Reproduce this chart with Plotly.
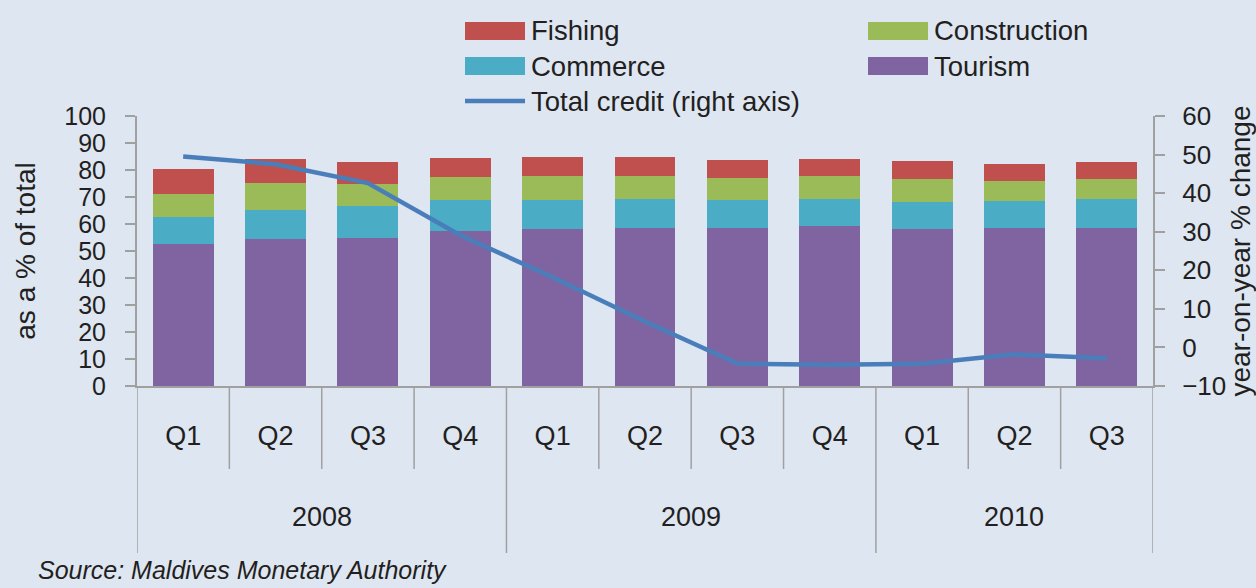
import plotly.graph_objects as go

# ---- data ----
years = ["2008", "2008", "2008", "2008", "2009", "2009", "2009", "2009", "2010", "2010", "2010"]
quarters = ["Q1", "Q2", "Q3", "Q4", "Q1", "Q2", "Q3", "Q4", "Q1", "Q2", "Q3"]
tourism = [52.6, 54.5, 54.9, 57.4, 58.2, 58.5, 58.5, 59.3, 58.2, 58.5, 58.5]
commerce = [10.0, 10.7, 11.8, 11.5, 10.7, 10.7, 10.4, 9.9, 9.9, 10.0, 10.7]
construction = [8.5, 10.0, 8.1, 8.5, 8.8, 8.5, 8.1, 8.5, 8.5, 7.4, 7.4]
fishing = [9.2, 8.8, 8.1, 7.0, 7.0, 7.0, 6.6, 6.3, 6.7, 6.3, 6.3]
total_credit = [49.5, 47.5, 42.6, 29.1, 18.2, 6.7, -4.2, -4.5, -4.2, -1.8, -2.8]

left_ticks = list(range(0, 101, 10))
right_ticks = list(range(-10, 61, 10))

# ---- styles ----
C_FISH = "#C0504D"
C_CONS = "#9BBB59"
C_COMM = "#4BACC6"
C_TOUR = "#8064A2"
C_LINE = "#4A7EBB"
BG = "#DEE6F2"
AXIS = "#A0A0A0"
TXT = "#231F20"
FONT = "Liberation Sans, Arial, sans-serif"

W, H = 1256, 588
L, R, T, B = 137, 103, 116, 202
PW, PH = W - L - R, H - T - B


def px(xp):
    return (xp - L) / PW


def py(yp):
    return (H - B - yp) / PH


xs = list(range(len(quarters)))

fig = go.Figure()
for name, vals, col in [("Tourism", tourism, C_TOUR), ("Commerce", commerce, C_COMM),
                        ("Construction", construction, C_CONS), ("Fishing", fishing, C_FISH)]:
    fig.add_trace(go.Bar(x=xs, y=vals, name=name, marker=dict(color=col, line=dict(width=0)),
                         showlegend=False))

fig.add_trace(go.Scatter(x=xs, y=total_credit, yaxis="y2", mode="lines",
                         name="Total credit (right axis)",
                         line=dict(color=C_LINE, width=4.5), showlegend=False))

shapes = []
annotations = []

# quarter dividers
for i in range(1, len(quarters)):
    if years[i] == years[i - 1]:
        shapes.append(dict(type="line", xref="x", yref="paper", x0=i - 0.5, x1=i - 0.5,
                           y0=0, y1=py(469), line=dict(color=AXIS, width=1.5)))
# year dividers and year labels
bounds = [0] + [i for i in range(1, len(years)) if years[i] != years[i - 1]] + [len(years)]
for b in bounds:
    shapes.append(dict(type="line", xref="x", yref="paper", x0=b - 0.5, x1=b - 0.5,
                       y0=0, y1=py(553), line=dict(color=AXIS, width=1.5)))
for a, b in zip(bounds[:-1], bounds[1:]):
    annotations.append(dict(xref="x", yref="paper", x=(a + b - 1) / 2, y=py(517),
                            text=years[a], showarrow=False, xanchor="center", yanchor="middle",
                            font=dict(size=27, color=TXT, family=FONT)))

# manual legend
leg = [("Fishing", C_FISH, 465, 31, "bar"), ("Construction", C_CONS, 868, 31, "bar"),
       ("Commerce", C_COMM, 465, 66, "bar"), ("Tourism", C_TOUR, 868, 66, "bar"),
       ("Total credit (right axis)", C_LINE, 465, 101, "line")]
for name, col, x0, yc, kind in leg:
    if kind == "bar":
        shapes.append(dict(type="rect", xref="paper", yref="paper", x0=px(x0), x1=px(x0 + 60),
                           y0=py(yc + 9), y1=py(yc - 9), fillcolor=col, line=dict(width=0)))
    else:
        shapes.append(dict(type="line", xref="paper", yref="paper", x0=px(x0), x1=px(x0 + 60),
                           y0=py(yc), y1=py(yc), line=dict(color=col, width=4.5)))
    annotations.append(dict(xref="paper", yref="paper", x=px(x0 + 64), y=py(yc), text=name,
                            showarrow=False, xanchor="left", yanchor="middle",
                            font=dict(size=27.5, color=TXT, family=FONT)))

annotations.append(dict(xref="paper", yref="paper", x=px(36), y=py(570),
                        text="<i>Source: Maldives Monetary Authority</i>", showarrow=False,
                        xanchor="left", yanchor="middle",
                        font=dict(size=25, color=TXT, family=FONT)))

fig.update_layout(
    width=W, height=H,
    margin=dict(l=L, r=R, t=T, b=B, pad=0),
    paper_bgcolor=BG, plot_bgcolor=BG,
    barmode="stack", bargap=0.34,
    showlegend=False,
    font=dict(family=FONT, size=26, color=TXT),
    xaxis=dict(range=[-0.5, len(quarters) - 0.5], tickvals=xs, ticktext=quarters,
               ticks="outside", ticklen=25, tickcolor="rgba(0,0,0,0)", automargin=False,
               showline=True, linecolor=AXIS, linewidth=2, showgrid=False, zeroline=False,
               tickfont=dict(size=27, color=TXT)),
    yaxis=dict(range=[0, 100], tickvals=left_ticks, ticks="outside", ticklen=10,
               tickcolor=AXIS, tickwidth=2, showline=True, linecolor=AXIS, linewidth=2,
               showgrid=False, zeroline=False, tickfont=dict(size=25, color=TXT),
               ticklabelstandoff=14, automargin=False,
               title=dict(text="as a % of total", font=dict(size=28, color=TXT), standoff=20)),
    yaxis2=dict(range=[-10, 60], tickvals=right_ticks, overlaying="y", side="right",
                ticks="outside", ticklen=10, tickcolor=AXIS, tickwidth=2, showline=True,
                linecolor=AXIS, linewidth=2, showgrid=False, zeroline=False,
                tickfont=dict(size=26, color=TXT), ticklabelstandoff=12, automargin=False,
                title=dict(text="year-on-year % change", font=dict(size=28, color=TXT), standoff=6)),
    shapes=shapes,
    annotations=annotations,
)

fig.write_html("out.html")
